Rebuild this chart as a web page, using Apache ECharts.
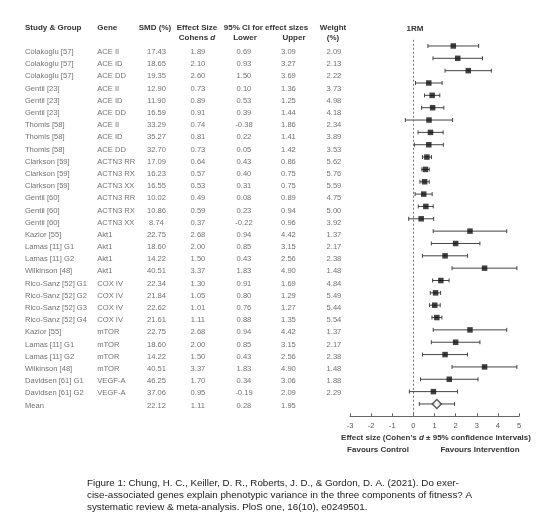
<!DOCTYPE html>
<html>
<head>
<meta charset="utf-8">
<script src="https://cdn.jsdelivr.net/npm/echarts@6/dist/echarts.min.js"></script>
<style>html,body{margin:0;padding:0;background:#fff;}#c{width:556px;height:522px;}</style>
</head>
<body>
<div id="c"></div>
<script>
const studies = ['Colakoglu [57]','Colakoglu [57]','Colakoglu [57]','Gentil [23]','Gentil [23]','Gentil [23]','Thomis [58]','Thomis [58]','Thomis [58]','Clarkson [59]','Clarkson [59]','Clarkson [59]','Gentil [60]','Gentil [60]','Gentil [60]','Kazior [55]','Lamas [11] G1','Lamas [11] G2','Wilkinson [48]','Rico-Sanz [52] G1','Rico-Sanz [52] G2','Rico-Sanz [52] G3','Rico-Sanz [52] G4','Kazior [55]','Lamas [11] G1','Lamas [11] G2','Wilkinson [48]','Davidsen [61] G1','Davidsen [61] G2','Mean'];
const genes = ['ACE II','ACE ID','ACE DD','ACE II','ACE ID','ACE DD','ACE II','ACE ID','ACE DD','ACTN3 RR','ACTN3 RX','ACTN3 XX','ACTN3 RR','ACTN3 RX','ACTN3 XX','Akt1','Akt1','Akt1','Akt1','COX IV','COX IV','COX IV','COX IV','mTOR','mTOR','mTOR','mTOR','VEGF-A','VEGF-A',''];
const smd = [17.43,18.65,19.35,12.90,11.90,16.59,33.29,35.27,32.70,17.09,16.23,16.55,10.02,10.86,8.74,22.75,18.60,14.22,40.51,22.34,21.84,22.62,21.61,22.75,18.60,14.22,40.51,46.25,37.06,22.12];
const cohensD = [1.89,2.10,2.60,0.73,0.89,0.91,0.74,0.81,0.73,0.64,0.57,0.53,0.49,0.59,0.37,2.68,2.00,1.50,3.37,1.30,1.05,1.01,1.11,2.68,2.00,1.50,3.37,1.70,0.95,1.11];
const lower = [0.69,0.93,1.50,0.10,0.53,0.39,-0.38,0.22,0.05,0.43,0.40,0.31,0.08,0.23,-0.22,0.94,0.85,0.43,1.83,0.91,0.80,0.76,0.88,0.94,0.85,0.43,1.83,0.34,-0.19,0.28];
const upper = [3.09,3.27,3.69,1.36,1.25,1.44,1.86,1.41,1.42,0.86,0.75,0.75,0.89,0.94,0.96,4.42,3.15,2.56,4.90,1.69,1.29,1.27,1.35,4.42,3.15,2.56,4.90,3.06,2.09,1.95];
const weight = [2.09,2.13,2.22,3.73,4.98,4.18,2.34,3.89,3.53,5.62,5.76,5.59,4.75,5.00,3.92,1.37,2.17,2.38,1.48,4.84,5.49,5.44,5.54,1.37,2.17,2.38,1.48,1.88,2.29,null];
const xTicks = [-3,-2,-1,0,1,2,3,4,5];
const captionLines = [
  'Figure 1: Chung, H. C., Keiller, D. R., Roberts, J. D., & Gordon, D. A. (2021). Do exer-',
  'cise-associated genes explain phenotypic variance in the three components of fitness? A',
  'systematic review & meta-analysis. PloS one, 16(10), e0249501.'
];

const FONT = '"Liberation Sans", Arial, sans-serif';
const TXT = '#4d4d4d';
const HDR = '#333';
const n = studies.length;

const fmt = v => (v === null || v === undefined) ? '' : (typeof v === 'number' ? v.toFixed(2) : v);
const tableCols = [
  {vals: studies, x: 25, align: 'left'},
  {vals: genes, x: 97.3, align: 'left'},
  {vals: smd, x: 156.5, align: 'center'},
  {vals: cohensD, x: 198, align: 'center'},
  {vals: lower, x: 244, align: 'center'},
  {vals: upper, x: 288.5, align: 'center'},
  {vals: weight, x: 334, align: 'center'}
];
const tableSeries = tableCols.map(col => ({
  type: 'scatter', xAxisIndex: 1, yAxisIndex: 1,
  symbolSize: 0.1, itemStyle: {color: 'transparent'}, silent: true,
  data: col.vals.map((v, i) => ({value: [col.x, i], txt: fmt(v)})),
  label: {show: true, position: [0, 0], align: col.align, verticalAlign: 'middle',
    fontFamily: FONT, fontSize: 7.6, color: TXT,
    formatter: p => p.data.txt}
}));

function hText(t, x, y, align, extra) {
  return Object.assign({type: 'text', x: x, y: y, silent: true,
    style: Object.assign({text: t, align: align, textAlign: align, verticalAlign: 'middle', textVerticalAlign: 'middle',
      fontFamily: FONT, fontSize: 8, fontWeight: 'bold', fill: HDR}, extra || {})});
}
const richBI = {b: {fontFamily: FONT, fontSize: 8, fontWeight: 'bold', fill: HDR, color: HDR},
                i: {fontFamily: FONT, fontSize: 8, fontWeight: 'bold', fontStyle: 'italic', fill: HDR, color: HDR}};

const graphics = [
  hText('Study & Group', 25, 27.7, 'left'),
  hText('Gene', 97.3, 27.7, 'left'),
  hText('SMD (%)', 155, 27.7, 'center'),
  hText('Effect Size', 197, 27.7, 'center'),
  hText('{b|Cohens }{i|d}', 197, 37.7, 'center', {rich: richBI}),
  hText('95% CI for effect sizes', 266, 27.7, 'center'),
  hText('Lower', 245, 37.7, 'center'),
  hText('Upper', 294, 37.7, 'center'),
  hText('Weight', 333, 27.7, 'center'),
  hText('(%)', 333, 37.7, 'center'),
  hText('1RM', 415, 29, 'center'),
  hText('{b|Effect size (Cohen\'s }{i|d}{b| ± 95% confidence intervals)}', 436, 437.5, 'center', {rich: richBI}),
  hText('Favours Control', 378, 449.5, 'center'),
  hText('Favours Intervention', 480, 449.5, 'center')
].concat(captionLines.map((t, k) => ({type: 'text', x: 87, y: 483.3 + k * 12.2, silent: true,
  style: {text: t, align: 'left', textAlign: 'left', verticalAlign: 'middle', textVerticalAlign: 'middle',
    fontFamily: FONT, fontSize: 9.8, fill: '#222'}})));

const chart = echarts.init(document.getElementById('c'), null, {renderer: 'canvas'});
chart.setOption({
  backgroundColor: '#fff',
  animation: false,
  grid: [
    {left: 350, width: 169, top: 39.8, height: 376.5},
    {left: 0, right: 0, top: 45.9, height: 365.7}
  ],
  xAxis: [
    {type: 'value', gridIndex: 0, min: -3, max: 5, interval: 1,
     splitLine: {show: false},
     axisLine: {show: true, onZero: false, lineStyle: {color: '#666', width: 1}},
     axisTick: {show: true, inside: true, length: 3, lineStyle: {color: '#666'}},
     axisLabel: {fontFamily: FONT, fontSize: 7.5, color: '#555', margin: 6,
       formatter: v => xTicks.indexOf(v) >= 0 ? String(v) : ''}},
    {type: 'value', gridIndex: 1, min: 0, max: 556, show: false}
  ],
  yAxis: [
    {type: 'value', gridIndex: 0, inverse: true, min: -0.5, max: 30, show: false},
    {type: 'value', gridIndex: 1, inverse: true, min: -0.5, max: 29.5, show: false}
  ],
  graphic: graphics,
  series: [
    {
      type: 'custom', xAxisIndex: 0, yAxisIndex: 0, silent: true,
      data: lower.map((l, i) => [l, upper[i], i]),
      renderItem: function (params, api) {
        const a = api.coord([api.value(0), api.value(2)]);
        const b = api.coord([api.value(1), api.value(2)]);
        const h = 2;
        const st = {stroke: '#444', lineWidth: 1};
        return {type: 'group', children: [
          {type: 'line', shape: {x1: a[0], y1: a[1], x2: b[0], y2: b[1]}, style: st},
          {type: 'line', shape: {x1: a[0], y1: a[1] - h, x2: a[0], y2: a[1] + h}, style: st},
          {type: 'line', shape: {x1: b[0], y1: b[1] - h, x2: b[0], y2: b[1] + h}, style: st}
        ]};
      },
      markLine: {
        silent: true, symbol: 'none', label: {show: false},
        lineStyle: {color: '#777', type: [2, 2], width: 1},
        data: [{xAxis: 0}]
      },
      z: 2
    },
    {
      type: 'scatter', xAxisIndex: 0, yAxisIndex: 0, silent: true,
      symbol: 'rect', symbolSize: 5.5,
      itemStyle: {color: '#111'},
      data: cohensD.slice(0, n - 1).map((d, i) => [d, i]),
      z: 3
    },
    {
      type: 'scatter', xAxisIndex: 0, yAxisIndex: 0, silent: true,
      symbol: 'diamond', symbolSize: 9,
      itemStyle: {color: '#fff', borderColor: '#333', borderWidth: 1.5},
      data: [[cohensD[n - 1], n - 1]],
      z: 3
    }
  ].concat(tableSeries)
});
</script>
</body>
</html>
